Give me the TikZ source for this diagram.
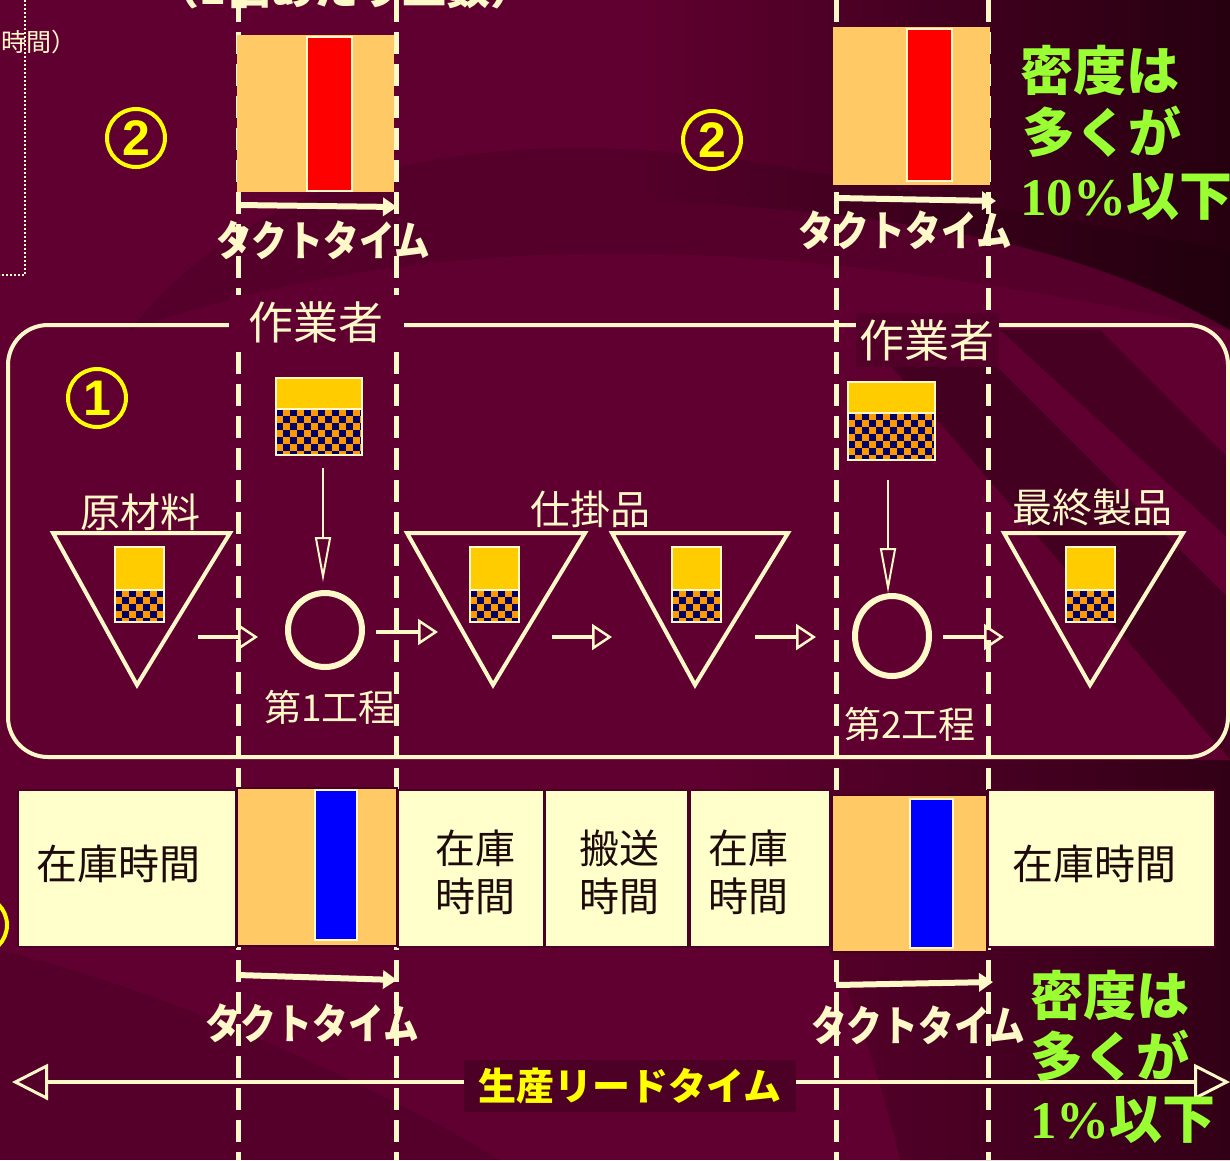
\documentclass[tikz,border=0pt]{standalone}
\usepackage{fontspec}
\usepackage{graphicx}
\setmainfont{Noto Sans CJK JP}
\newfontfamily\ars{Liberation Sans}
\newfontfamily\tnr{Liberation Serif}
\usetikzlibrary{arrows.meta,shapes.geometric}
\definecolor{bg}{HTML}{600030}
\definecolor{bgdark}{HTML}{26000F}
\definecolor{cream}{HTML}{FFF8C8}
\definecolor{orng}{HTML}{FFC966}
\definecolor{yel}{HTML}{FFCC00}
\definecolor{chkO}{HTML}{FF9900}
\definecolor{chkN}{HTML}{000066}
\definecolor{cellc}{HTML}{FFFFCC}
\definecolor{grn}{HTML}{99FF33}
\definecolor{ytxt}{HTML}{FFFF00}
\definecolor{dtxt}{HTML}{1E0A0A}
\newcommand\fs[1]{\fontsize{#1}{#1}\selectfont}
\newcommand\chk[4]{%
  \begin{scope}
    \clip (#1,#2) rectangle (#3,#4);
    \fill[chkO] (#1,#2) rectangle (#3,#4);
    \foreach \i in {0,...,7}{\foreach \j in {0,...,4}{
      \fill[chkN] ({#1+14*\i},{#2+14*\j}) rectangle +(7,7);
      \fill[chkN] ({#1+14*\i+7},{#2+14*\j+7}) rectangle +(7,7);
    }}
  \end{scope}}
\newcommand\stock[5]{%
  \fill[yel] (#1,#2) rectangle (#3,#4);
  \chk{#1}{#4}{#3}{#5}
  \draw[cream, line width=2] (#1,#2) rectangle (#3,#5);
  \draw[cream, line width=1.5] (#1,#4) -- (#3,#4);}
\begin{document}
\begin{tikzpicture}[x=1pt,y=-1pt,
  creamtxt/.style={text=cream, inner sep=0},
  lbl/.style={text=cream, font=\fs{40}, inner sep=0},
  tri/.style={draw=cream, line width=4, line join=miter},
  proc/.style={ellipse, draw=cream, line width=6, inner sep=0},
  harr/.style={draw=cream, line width=4, -{Triangle[open,length=20pt,width=26pt,line width=2.5pt]}},
  varr/.style={draw=cream, line width=2.5, -{Triangle[open,length=45pt,width=16pt,line width=2pt]}},
  takt/.style={draw=cream, line width=6, -{Triangle[length=14pt,width=18pt]}},
  takttxt/.style={text=cream, font=\fs{42}\bfseries, inner sep=0},
  dline/.style={draw=cream, line width=5, dash pattern=on 22pt off 10pt},
  num/.style={circle, draw=ytxt, line width=4, minimum size=58, inner sep=0, text=ytxt, font=\ars\bfseries\fs{50}},
  cell/.style={fill=cellc, draw=bg!80!black, line width=1.5},
  celltxt/.style={text=dtxt, font=\fs{41}, align=center, inner sep=0},
  gtxt/.style={text=grn, font=\bfseries\fs{53}, anchor=west, inner sep=0},
  lead/.style={draw=cream, line width=4, -{Triangle[open,length=36pt,width=36pt,line width=3pt]}}
]
\useasboundingbox (0,0) rectangle (1230,1160);
\clip (0,0) rectangle (1230,1160);
% background
\fill[bg] (0,0) rectangle (1230,1160);
\begin{scope}
  \clip (640,0) -- (1230,0) -- (1230,330) .. controls (1100,255) and (950,215) .. (640,200) -- cycle;
  \shade[left color=bg, right color=bgdark] (640,0) rectangle (1230,330);
\end{scope}
\fill[black, opacity=0.12] (130,330) .. controls (300,120) and (600,120) .. (900,190) -- (1230,250) -- (1230,330) .. controls (900,260) and (500,200) .. (130,330) -- cycle;
\fill[black, opacity=0.3] (860,330) -- (960,330) -- (1230,600) -- (1230,760) -- cycle;
\fill[black, opacity=0.28] (1000,330) -- (1100,330) -- (1230,460) -- (1230,540) -- cycle;
\begin{scope}
  \clip (700,760) -- (1230,760) -- (1230,1160) -- (900,1160) .. controls (850,950) and (780,850) .. (700,760) -- cycle;
  \shade[left color=bg, right color=bgdark!80!bg] (700,760) rectangle (1230,1160);
\end{scope}
\fill[black, opacity=0.12] (0,1160) -- (0,950) .. controls (200,1000) and (400,1100) .. (500,1160) -- cycle;

% dotted frame at left top
\coordinate (dtop) at (25,0);
\coordinate (dcorner) at (25,275);
\coordinate (dleft) at (0,275);
\draw[cream, line width=2, dotted] (dtop) -- (dcorner) -- (dleft);
\node[creamtxt, font=\fs{25}, anchor=east] (jikan) at (77,42) {時間）};
\node[creamtxt, font=\bfseries\fs{44}, anchor=base] (kosu) at (345,4) {（1個あたり工数）};

% big rounded frame
\draw[cream, line width=4, rounded corners=40] (8,325) rectangle (1228,757);

% dashed takt lines
\coordinate (L1t) at (238,0); \coordinate (L1b) at (238,1160);
\coordinate (L2t) at (396,0); \coordinate (L2b) at (396,1160);
\coordinate (R1t) at (836,0); \coordinate (R1b) at (836,1160);
\coordinate (R2t) at (988,0); \coordinate (R2b) at (988,1160);
\draw[dline] (L1t) -- (L1b);
\draw[dline] (L2t) -- (L2b);
\draw[dline] (R1t) -- (R1b);
\draw[dline] (R2t) -- (R2b);

% worker labels
\node[lbl, font=\fs{45}, fill=bg, inner xsep=20, inner ysep=6] (worker1) at (316,322) {作業者};
\node[lbl, font=\fs{45}, fill=bg!85!black, inner xsep=4, inner ysep=6] (worker2) at (927,340) {作業者};

% numbers
\node[num] (n2a) at (136,138) {2};
\node[num] (n2b) at (712,140) {2};
\node[num] (n1) at (97,398) {1};
\node[num] (n3) at (-22,925) {};

% top takt boxes
\fill[orng] (237,35) rectangle (394,192);
\draw[cream, line width=2, fill=red] (307,37) rectangle (352,191);
\fill[orng] (833,27) rectangle (990,185);
\draw[cream, line width=2, fill=red] (907,29) rectangle (952,181);
\coordinate (tk1a) at (238,205); \coordinate (tk1b) at (397,207);
\coordinate (tk2a) at (837,198); \coordinate (tk2b) at (996,201);
\draw[takt] (tk1a) -- (tk1b);
\draw[takt] (tk2a) -- (tk2b);
\node[takttxt] (tt1) at (323,240) {\scalebox{0.85}[1]{タクトタイム}};
\node[takttxt] (tt2) at (905,230) {\scalebox{0.85}[1]{タクトタイム}};

% green texts top
\node[gtxt] (g1) at (1020,70) {密度は};
\node[gtxt] (g2) at (1022,132) {多くが};
\node[gtxt] (g3) at (1020,197) {{\tnr 10\%}以下};

% worker stock boxes
\stock{276}{378}{362}{409}{455}
\stock{848}{382}{935}{413}{460}

% triangles
\draw[tri] (53,533) -- (230,533) -- (137,685) -- cycle;
\draw[tri] (407,533) -- (585,533) -- (493,685) -- cycle;
\draw[tri] (612,533) -- (788,533) -- (695,685) -- cycle;
\draw[tri] (1004,533) -- (1183,533) -- (1090,685) -- cycle;
\stock{115}{547}{164}{590}{622}
\stock{470}{547}{519}{590}{622}
\stock{672}{547}{721}{590}{622}
\stock{1066}{547}{1115}{590}{622}

\node[lbl] (raw) at (140,512) {原材料};
\node[lbl] (wip) at (590,509) {仕掛品};
\node[lbl] (fin) at (1092,507) {最終製品};

% processes
\node[proc, minimum width=74, minimum height=74] (p1) at (325,630) {};
\node[proc, minimum width=74, minimum height=80] (p2) at (892,636) {};
\node[lbl, font=\fs{37}] (p1l) at (330,707) {第1工程};
\node[lbl, font=\fs{37}] (p2l) at (910,724) {第2工程};

% down arrows
\coordinate (d1a) at (323,468); \coordinate (d1b) at (323,582);
\coordinate (d2a) at (888,480); \coordinate (d2b) at (888,593);
\draw[varr] (d1a) -- (d1b);
\draw[varr] (d2a) -- (d2b);

% flow arrows
\coordinate (a1a) at (198,637); \coordinate (a1b) at (258,637);
\coordinate (a2a) at (376,632); \coordinate (a2b) at (438,632);
\coordinate (a3a) at (552,637); \coordinate (a3b) at (612,637);
\coordinate (a4a) at (755,637); \coordinate (a4b) at (816,637);
\coordinate (a5a) at (943,637); \coordinate (a5b) at (1004,637);
\draw[harr] (a1a) -- (a1b);
\draw[harr] (a2a) -- (a2b);
\draw[harr] (a3a) -- (a3b);
\draw[harr] (a4a) -- (a4b);
\draw[harr] (a5a) -- (a5b);

% bottom bar
\draw[cell] (18,790) rectangle (236,947);
\node[celltxt] (c1) at (118,864) {在庫時間};
\fill[orng] (237,788) rectangle (397,946);
\draw[bg!70!black, line width=1.5] (237,788) rectangle (397,946);
\draw[cream, line width=2, fill=blue] (315,790) rectangle (357,940);
\draw[cell] (398,790) rectangle (544,947);
\node[celltxt, font=\fs{40}] (c2) at (475,872) {在庫\\[8pt]時間};
\draw[cell] (545,790) rectangle (688,947);
\node[celltxt, font=\fs{40}] (c3) at (619,872) {搬送\\[8pt]時間};
\draw[cell] (690,790) rectangle (830,947);
\node[celltxt, font=\fs{40}] (c4) at (748,872) {在庫\\[8pt]時間};
\fill[orng] (832,795) rectangle (987,952);
\draw[bg!70!black, line width=1.5] (832,795) rectangle (987,952);
\draw[cream, line width=2, fill=blue] (910,799) rectangle (953,948);
\draw[cell] (988,790) rectangle (1215,947);
\node[celltxt] (c5) at (1094,864) {在庫時間};

% bottom takt
\coordinate (tk3a) at (238,975); \coordinate (tk3b) at (397,980);
\coordinate (tk4a) at (836,985); \coordinate (tk4b) at (993,982);
\draw[takt] (tk3a) -- (tk3b);
\draw[takt] (tk4a) -- (tk4b);
\node[takttxt] (tt3) at (312,1023) {\scalebox{0.85}[1]{タクトタイム}};
\node[takttxt] (tt4) at (918,1025) {\scalebox{0.85}[1]{タクトタイム}};

% lead time
\node[text=ytxt, font=\bfseries\fs{38}, fill=bg!80!black, inner xsep=14, inner ysep=8] (leadt) at (630,1086) {生産リードタイム};
\coordinate (leadL) at (12,1082);
\coordinate (leadR) at (1230,1082);
\draw[lead] (leadt.west |- leadL) -- (leadL);
\draw[lead] (leadt.east |- leadR) -- (leadR);

% green texts bottom
\node[gtxt] (g4) at (1030,995) {密度は};
\node[gtxt] (g5) at (1030,1056) {多くが};
\node[gtxt] (g6) at (1030,1120) {{\tnr 1\%}以下};
\end{tikzpicture}
\end{document}
